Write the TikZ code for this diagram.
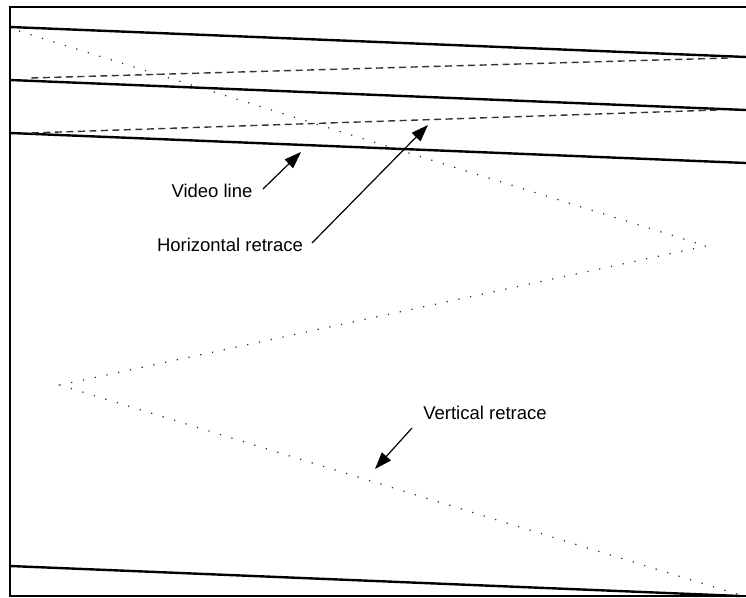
\documentclass[tikz,border=0pt]{standalone}
\usepackage{fontspec}
\setmainfont{Liberation Sans}
\usetikzlibrary{arrows.meta}
\begin{document}
\begin{tikzpicture}[x=1pt,y=-1pt,
  borderline/.style={line width=2.2pt},
  videoline/.style={line width=2.4pt},
  hretrace/.style={line width=1.4pt,dash pattern=on 7pt off 4.5pt,black!80},
  vretrace/.style={line width=1.2pt,dash pattern=on 1.2pt off 10.8pt,black!85},
  pointer/.style={line width=1.2pt,-{Triangle[length=17pt,width=12pt]}},
  lbl/.style={font=\fontsize{18.5}{20}\selectfont,inner sep=0pt}]
\useasboundingbox (0,0) rectangle (746,597);
% frame
\draw[borderline] (746,7) -- (10,7) -- (10,596) -- (746,596);
% video lines
\draw[videoline] (10,27) -- (746,57);
\draw[videoline] (10,80) -- (746,110);
\draw[videoline] (10,133) -- (746,163);
\draw[videoline] (10,566) -- (740,596);
% horizontal retrace
\draw[hretrace] (728,58) -- (30,78);
\draw[hretrace] (717,110) -- (30,133);
% vertical retrace path (dotted)
\draw[vretrace] (19,31) -- (706,246) -- (60,385) -- (740,595);
% labels
\node[lbl] (vl) at (212,191) {Video line};
\node[lbl] (hr) at (230,245) {Horizontal retrace};
\node[lbl] (vr) at (485,413) {Vertical retrace};
% arrow ends
\coordinate (vlt) at (263,189);
\coordinate (vlh) at (301,152);
\coordinate (hrt) at (312,243);
\coordinate (hrh) at (428,125);
\coordinate (vrt) at (412,428);
\coordinate (vrh) at (375,469);
\draw[pointer] (vlt) -- (vlh);
\draw[pointer] (hrt) -- (hrh);
\draw[pointer] (vrt) -- (vrh);
\end{tikzpicture}
\end{document}
